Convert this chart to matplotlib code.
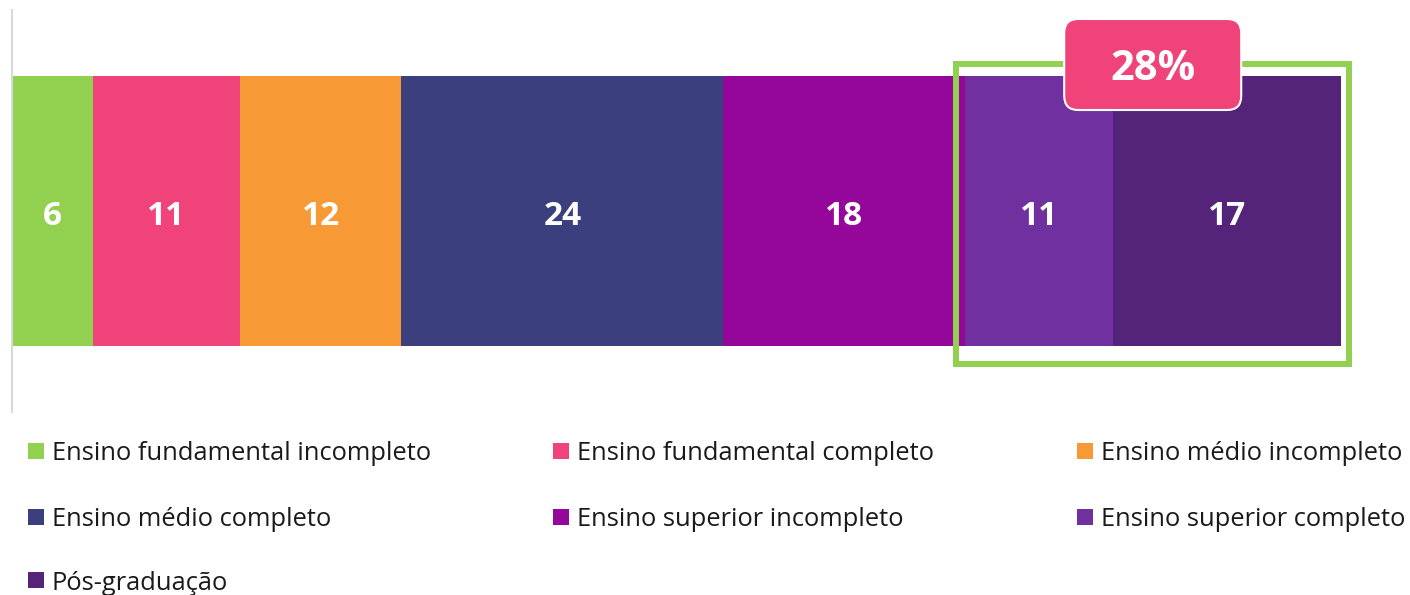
import numpy as np
import matplotlib
matplotlib.use('Agg')
import matplotlib.pyplot as plt
from matplotlib.patches import Rectangle, FancyBboxPatch
from matplotlib.transforms import IdentityTransform

categories = ['Ensino fundamental incompleto', 'Ensino fundamental completo',
              'Ensino médio incompleto', 'Ensino médio completo',
              'Ensino superior incompleto', 'Ensino superior completo',
              'Pós-graduação']
values = [6, 11, 12, 24, 18, 11, 17]
colors = ['#92d050', '#f0437a', '#f79a35', '#3c3f7e', '#95079b', '#7030a0', '#53247a']
highlight = [5, 6]  # superior completo + pos-graduacao

plt.rcParams['font.family'] = ['Open Sans', 'DejaVu Sans']

W, H = 1410, 595
fig = plt.figure(figsize=(W / 100, H / 100), dpi=100)
ax = fig.add_axes([12 / W, 1 - 412 / H, 1329 / W, 402 / H])

starts = np.concatenate([[0], np.cumsum(values)[:-1]])
bar_h = 270 / 402
ax.barh(0, values, left=starts, height=bar_h, color=colors)
ax.set_xlim(0, sum(values))
ax.set_ylim(-0.5, 0.5)

for s, v in zip(starts, values):
    ax.text(s + v / 2, -0.004, str(v), ha='center', va='center_baseline', color='white',
            fontsize=24, fontweight='bold')

for sp in ['top', 'right', 'bottom']:
    ax.spines[sp].set_visible(False)
ax.spines['left'].set_color('#d9d9d9')
ax.spines['left'].set_linewidth(1.5)
ax.set_xticks([])
ax.set_yticks([])

# green frame around highlighted group
x0 = starts[highlight[0]]
x1 = starts[highlight[-1]] + values[highlight[-1]]
rect = Rectangle((x0 - 0.65, -0.381), (x1 - x0) + 1.25, 0.747, fill=False,
                 ec='#92d050', lw=4.3, clip_on=False)
ax.add_patch(rect)

# pink callout with the group total
total = sum(values[i] for i in highlight)
cx = ax.transData.transform(((x0 - 0.65 + x1 + 0.6) / 2, 0))[0]
cy = H - 64.5
bw, bh = 177, 91
box = FancyBboxPatch((cx - bw / 2, cy - bh / 2), bw, bh,
                     boxstyle='round,pad=0,rounding_size=14',
                     fc='#f0437a', ec='white', lw=1.5, transform=IdentityTransform())
fig.add_artist(box)
fig.text(cx / W, cy / H, f'{total}%', ha='center', va='center_baseline', color='white',
         fontsize=30, fontweight='bold')

# legend, row by row in three columns
col_x = [28, 553, 1077]
row_y = [451, 517, 580]
for i, (lab, c) in enumerate(zip(categories, colors)):
    r, k = divmod(i, 3)
    x, y = col_x[k], H - row_y[r]
    fig.add_artist(Rectangle((x, y - 8), 16, 16, fc=c, ec='none',
                             transform=IdentityTransform()))
    fig.text((x + 24) / W, y / H, lab, ha='left', va='center_baseline', fontsize=18.4,
             color='#1a1a1a')

fig.savefig('out.png', dpi=100)
